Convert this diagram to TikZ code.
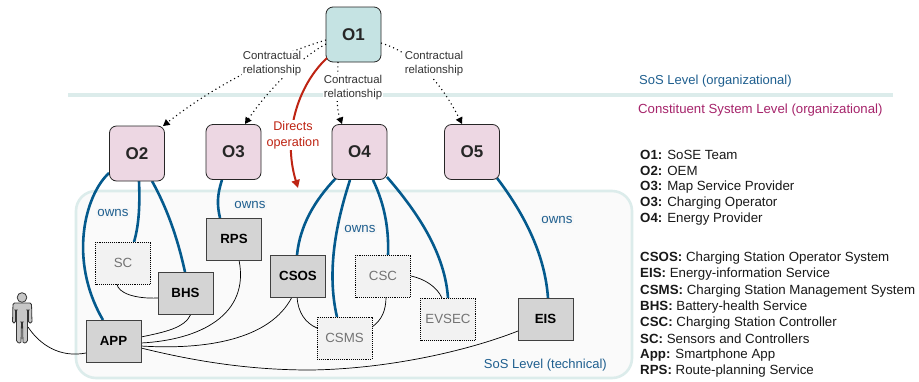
\documentclass[tikz,border=0pt]{standalone}
\usepackage{fontspec}
\setmainfont{Liberation Sans}
\usetikzlibrary{arrows.meta,calc}
\definecolor{teal1}{HTML}{C5E3E3}
\definecolor{teal2}{HTML}{DCECEB}
\definecolor{pinkb}{HTML}{EDD7E3}
\definecolor{owncol}{HTML}{045A8D}
\definecolor{redc}{HTML}{BE2413}
\definecolor{purp}{HTML}{A6246B}
\definecolor{bluet}{HTML}{1F5F8F}
\tikzset{
 x=1pt,y=-1pt,
 org/.style={draw=black!85,line width=0.8pt,rounded corners=7pt,minimum width=55pt,minimum height=55pt,inner sep=0pt,font=\fontsize{17}{17}\selectfont\bfseries\color{black!85}},
 sys/.style={draw=black!75,line width=0.9pt,fill=black!17,minimum width=55pt,minimum height=42pt,inner sep=0pt,font=\fontsize{13.3}{14}\selectfont\bfseries},
 ghost/.style={draw=black,dash pattern=on 0.8pt off 1.1pt,line width=0.8pt,fill=black!5,minimum width=55pt,minimum height=42pt,inner sep=0pt,font=\fontsize{13.3}{14}\selectfont\color{black!55}},
 owns/.style={draw=owncol,line width=2.6pt},
 link/.style={draw=black,line width=0.7pt},
 contract/.style={draw=black,line width=1.1pt,dash pattern=on 1.1pt off 3.2pt,-{Triangle[length=6.5pt,width=7pt]}},
 clabel/.style={fill=white,inner sep=1pt,align=center,font=\fontsize{11.4}{14}\selectfont,text=black!80},
 ownlabel/.style={fill=black!3,inner sep=1.5pt,font=\fontsize{13.3}{14}\selectfont,text=bluet},
 legend/.style={anchor=west,inner sep=0pt,font=\fontsize{13.3}{14}\selectfont,text=black!90},
}
\begin{document}
\begin{tikzpicture}
\useasboundingbox (0,0) rectangle (919,381);
\fill[white] (0,0) rectangle (919,381);
% technical level area
\draw[teal2,line width=2.6pt,fill=black!2,rounded corners=20pt] (76,191) rectangle (632,378);
% level line
\coordinate (la) at (68,95); \coordinate (lb) at (893,95);
\draw[teal2,line width=4pt] (la) -- (lb);
% coordinates for the connector ends
\coordinate (p2) at (163,126); \coordinate (p3) at (245,124);
\coordinate (p4) at (342,124); \coordinate (p5) at (462,124);
% owns first so that their ends tuck under the boxes
\coordinate (a1) at (109,173);
\draw[owns] (a1) .. controls (85,195) and (68,260) .. (103,320);
\draw[owns] (139,181) .. controls (140,205) and (139,225) .. (134,242);
\draw[owns] (152,181) .. controls (168,210) and (178,240) .. (185,272);
\draw[owns] (222,180) .. controls (217,195) and (217,205) .. (220,218);
\draw[owns] (336,178) .. controls (315,200) and (300,225) .. (297,255);
\draw[owns] (350,180) .. controls (337,220) and (326,270) .. (337,317);
\draw[owns] (373,180) .. controls (385,205) and (389,230) .. (388,255);
\draw[owns] (387,177) .. controls (420,215) and (445,255) .. (448,298);
\draw[owns] (497,178) .. controls (525,215) and (545,255) .. (548,298);
% technical links
\coordinate (sc1) at (117,284); \coordinate (bh1) at (158,298);
\draw[link] (sc1) .. controls (118,293) and (135,299) .. (bh1);
\coordinate (bh2) at (191,314); \coordinate (ap1) at (141,337);
\draw[link] (bh2) .. controls (185,328) and (165,332) .. (ap1);
\coordinate (rp1) at (239,260); \coordinate (ap2) at (141,343);
\draw[link] (rp1) .. controls (250,315) and (200,340) .. (ap2);
\coordinate (cs1) at (292,297); \coordinate (ap3) at (141,346);
\draw[link] (cs1) .. controls (270,340) and (205,350) .. (ap3);
\coordinate (ap4) at (141,348); \coordinate (ei1) at (518,331);
\draw[link] (ap4) .. controls (190,360) and (245,370) .. (310,370) .. controls (390,369) and (470,350) .. (ei1);
\coordinate (cs2) at (297,297); \coordinate (cm1) at (317,328);
\draw[link] (cs2) .. controls (298,312) and (305,323) .. (cm1);
\coordinate (cc1) at (386,297); \coordinate (cm2) at (372,327);
\draw[link] (cc1) .. controls (386,310) and (382,320) .. (cm2);
\coordinate (cc2) at (411,276); \coordinate (ev1) at (442,298);
\draw[link] (cc2) .. controls (425,279) and (437,287) .. (ev1);
\coordinate (pers) at (28,327); \coordinate (ap5) at (86,353);
\draw[link] (pers) .. controls (40,345) and (60,358) .. (ap5);
% orgs
\node[org,fill=teal1] (O1) at (353.5,34.5) {O1};
\node[org,fill=pinkb] (O2) at (137,153.5) {O2};
\node[org,fill=pinkb] (O3) at (233.5,152) {O3};
\node[org,fill=pinkb] (O4) at (359.5,152) {O4};
\node[org,fill=pinkb] (O5) at (472,152) {O5};
% systems
\node[ghost] (SC) at (123,263) {SC};
\node[sys] (BHS) at (185.5,293) {BHS};
\node[sys] (RPS) at (234,239) {RPS};
\node[sys] (CSOS) at (298,276) {CSOS};
\node[sys] (APP) at (113.5,341) {APP};
\node[ghost] (CSC) at (383,276) {CSC};
\node[ghost] (CSMS) at (344.5,338) {CSMS};
\node[ghost] (EVSEC) at (448,319) {EVSEC};
\node[sys] (EIS) at (545.5,319) {EIS};
% person
\begin{scope}[line width=0.8pt]
\fill[black!22,draw=black!80] (22,297.5) circle (4.8);
\path[fill=black!22,draw=black!80,rounded corners=1.5pt] (13,303) -- (31.5,303) -- (32,323) -- (28.5,323) -- (28.5,310) -- (27.5,310) -- (27.5,342) -- (23,343.5) -- (22.5,322) -- (21.5,322) -- (21,343.5) -- (16.5,342) -- (16.5,310) -- (15.5,310) -- (15.5,323) -- (12.5,323) -- cycle;
\end{scope}
% contractual
\coordinate (c1) at (326,40); \coordinate (c2) at (326,44); \coordinate (c3) at (338,62); \coordinate (c4) at (381,43);
\draw[contract] (c1) .. controls (275,55) and (215,85) .. (p2);
\draw[contract] (c2) .. controls (300,58) and (268,90) .. (p3);
\draw[contract] (c3) .. controls (338,80) and (335,105) .. (p4);
\draw[contract] (c4) .. controls (420,55) and (445,90) .. (p5);
\node[clabel] at (272,64) {Contractual\\relationship};
\node[clabel] at (353,88) {Contractual\\relationship};
\node[clabel] at (434,64) {Contractual\\relationship};
% directs
\coordinate (d1) at (327,58); \coordinate (d2) at (298,188);
\draw[draw=redc,line width=2pt,-{Triangle[length=8pt,width=8pt]}] (d1) .. controls (298,85) and (282,135) .. (d2);
\node[fill=white,inner sep=1pt,align=center,font=\fontsize{12.6}{16}\selectfont,text=redc] at (293,135) {Directs\\operation};
% owns labels
\node[ownlabel] at (113,213) {owns};
\node[ownlabel] at (250,205) {owns};
\node[ownlabel] at (360,229) {owns};
\node[ownlabel] at (557,220) {owns};
% level labels
\node[anchor=west,inner sep=0pt,font=\fontsize{13}{14}\selectfont,text=bluet] at (639,81) {SoS Level (organizational)};
\node[anchor=west,inner sep=0pt,font=\fontsize{13.2}{14}\selectfont,text=purp] at (638,110) {Constituent System Level (organizational)};
\node[anchor=east,inner sep=0pt,font=\fontsize{13}{14}\selectfont,text=bluet] at (607,365) {SoS Level (technical)};
% legend
\node[legend] at (640,154.6) {\textbf{O1:} SoSE Team};
\node[legend] at (640,170.6) {\textbf{O2:} OEM};
\node[legend] at (640,186.8) {\textbf{O3:} Map Service Provider};
\node[legend] at (640,203) {\textbf{O3:} Charging Operator};
\node[legend] at (640,219) {\textbf{O4:} Energy Provider};
\node[legend] at (640,258.4) {\textbf{CSOS:} Charging Station Operator System};
\node[legend] at (640,274.4) {\textbf{EIS:} Energy-information Service};
\node[legend] at (640,290.6) {\textbf{CSMS:} Charging Station Management System};
\node[legend] at (640,306.6) {\textbf{BHS:} Battery-health Service};
\node[legend] at (640,322.8) {\textbf{CSC:} Charging Station Controller};
\node[legend] at (640,339) {\textbf{SC:} Sensors and Controllers};
\node[legend] at (640,355) {\textbf{App:} Smartphone App};
\node[legend] at (640,371.2) {\textbf{RPS:} Route-planning Service};
\end{tikzpicture}
\end{document}
